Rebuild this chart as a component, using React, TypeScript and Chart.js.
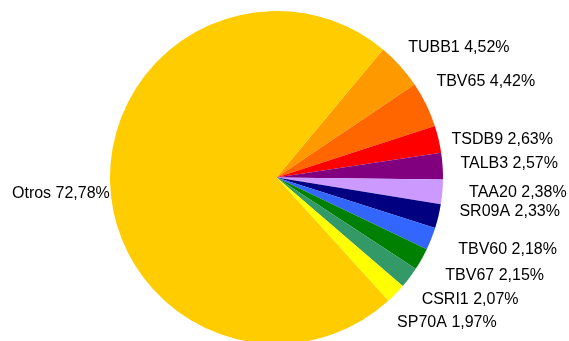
import React, { useEffect, useRef } from "react";
import { Chart, registerables } from "chart.js";

Chart.register(...registerables);

const categories = ["TUBB1", "TBV65", "TSDB9", "TALB3", "TAA20", "SR09A", "TBV60", "TBV67", "CSRI1", "SP70A", "Otros"];
const shares = [4.52, 4.42, 2.63, 2.57, 2.38, 2.33, 2.18, 2.15, 2.07, 1.97, 72.78];
const sliceColors = ["#FF9900", "#FF6600", "#FF0000", "#800080", "#CC99FF", "#000080", "#3366FF", "#008000", "#339966", "#FFFF00", "#FFCC00"];

// label placement tweaks (pixels) mimicking the original's label collision adjustments
const labelNudgeX = [4, -5.5, -8, -5, 4, 0, 9, 10, 3.5, -1, 0];
const labelNudgeY = [3, -9, 8, -0.7, -2.5, -11.8, -1, 1.2, 3.2, 7, 12];

const W = 569;
const H = 341;
const FONT = '16px "Liberation Sans", Arial, sans-serif';

const fmt = (v: number) => v.toFixed(2).replace(".", ",") + "%";

const labelPlugin = {
  id: "outerLabels",
  afterDatasetsDraw(chart: any) {
    const ctx = chart.ctx;
    const meta = chart.getDatasetMeta(0);
    ctx.save();
    ctx.font = FONT;
    ctx.fillStyle = "#000";
    ctx.textAlign = "center";
    ctx.textBaseline = "middle";
    const gap = 23;
    const h = 18;
    meta.data.forEach((arc: any, i: number) => {
      const p = arc.getProps(["x", "y", "startAngle", "endAngle", "outerRadius"], true);
      const mid = (p.startAngle + p.endAngle) / 2;
      const dx = Math.cos(mid);
      const dy = Math.sin(mid);
      const text = categories[i] + " " + fmt(shares[i]);
      const w = ctx.measureText(text).width;
      const R = p.outerRadius + gap;
      let cx = p.x + R * dx + (w / 2) * dx;
      const cy = p.y + R * dy + (h / 2) * dy + labelNudgeY[i];
      const left = cx - w / 2;
      if (left < 12) cx = 12 + w / 2;
      if (cx + w / 2 > W - 2) cx = W - 2 - w / 2;
      cx += labelNudgeX[i];
      ctx.fillText(text, cx, cy);
    });
    ctx.restore();
  },
};

export default function App() {
  const ref = useRef<HTMLCanvasElement | null>(null);
  useEffect(() => {
    if (!ref.current) return;
    const chart = new Chart(ref.current, {
      type: "pie",
      data: {
        labels: categories,
        datasets: [
          {
            data: shares,
            backgroundColor: sliceColors,
            borderWidth: 0,
            radius: 166.5,
          } as any,
        ],
      },
      options: {
        responsive: false,
        animation: false,
        rotation: 39.8,
        layout: { padding: { left: 0, right: 16, top: 14, bottom: 0 } },
        plugins: {
          legend: { display: false },
          tooltip: { enabled: false },
        },
      },
      plugins: [labelPlugin],
    });
    return () => chart.destroy();
  }, []);
  return (
    <div style={{ position: "fixed", left: 0, top: 0, width: W, height: H, overflow: "hidden", background: "#fff" }}>
      <canvas ref={ref} width={W} height={H} style={{ display: "block" }} />
    </div>
  );
}
